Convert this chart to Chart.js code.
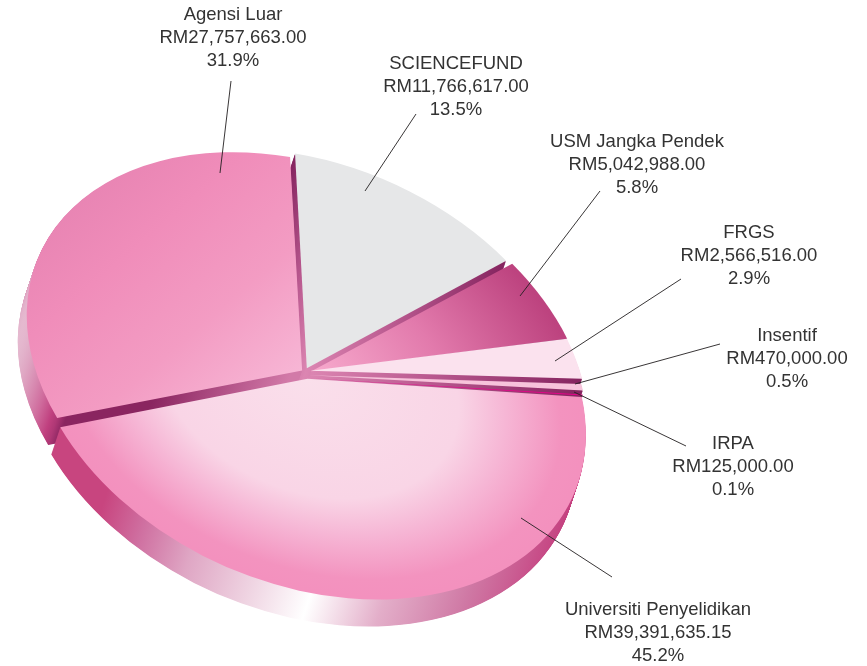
<!DOCTYPE html>
<html>
<head>
<meta charset="utf-8">
<style>html,body{margin:0;padding:0;background:#fff}canvas{display:block}</style>
<script src="https://cdn.jsdelivr.net/npm/chart.js@4/dist/chart.umd.min.js"></script>
</head>
<body>
<canvas id="c" width="867" height="666"></canvas>
<script>
// ---- data (clockwise from the top of the pie)
const categories = ["SCIENCEFUND","USM Jangka Pendek","FRGS","Insentif","IRPA","Universiti Penyelidikan","Agensi Luar"];
const amounts = [11766617.00,5042988.00,2566516.00,470000.00,125000.00,39391635.15,27757663.00];
const percents = ["13.5%","5.8%","2.9%","0.5%","0.1%","45.2%","31.9%"];

// ---- style and layout
const faceColors = ["#e6e7e8","#d9689f","#fbe2ee","#f7c3db","#ec008c","#f7c5dc","#f39abf"];
const explode = [22,17,13,10,9,14,13];
const nudge = [[-2,0],[0,0],[0,-2],[0,2],[0,5],[0,2],[0,0]];
const labelCenters = [[456,64],[637,142],[749,233],[787,336],[733,444],[658,610],[233,15]];
const leaders = [[416,114,365,191],[600,191,520,296],[681,279,555,361],[720,344,575,384],[686,446,574,392],[612,577,521,518],[231,81,220,173]];
const paintOrder = [0,1,2,3,4,6,5];
const CENTER = [306,373], AXIS_U = [275,55], AXIS_V = [0,211], DEPTH = [-9,27], R = 200;

function money(v){return "RM"+v.toLocaleString("en-US",{minimumFractionDigits:2,maximumFractionDigits:2});}
function stops(g,list){list.forEach(s=>g.addColorStop(s[0],s[1]));return g;}

const pie3d = {
  id:"pie3d",
  beforeDatasetDraw(chart,args){
    const ctx = chart.ctx, els = args.meta.data, x0 = els[0].x, y0 = els[0].y;
    const a = AXIS_U[0]/R, b = AXIS_U[1]/R, c = AXIS_V[0]/R, d = AXIS_V[1]/R;
    const e = CENTER[0]-a*x0-c*y0, f = CENTER[1]-b*x0-d*y0;
    const sx = s => x0+(s-CENTER[0])/a;               // screen x -> chart x
    const radial = (r0,list) => stops(ctx.createRadialGradient(x0,y0,r0,x0,y0,R),list);
    const byX = (s0,s1,list) => stops(ctx.createLinearGradient(sx(s0),0,sx(s1),0),list);
    const spoke = [[0,"#dc86b2"],[0.45,"#b9598f"],[1,"#862560"]];
    const walls = {
      0:radial(0,spoke),1:radial(0,spoke),2:radial(0,spoke),3:radial(0,spoke),4:radial(0,spoke),
      5:byX(55,575,[[0,"#c8457f"],[0.1,"#c8457f"],[0.17,"#cf6fa0"],[0.26,"#dfa6c4"],[0.38,"#efd4e2"],[0.49,"#ffffff"],[0.63,"#e3aec9"],[0.8,"#cf78a4"],[0.93,"#c8508a"],[1,"#c4407f"]]),
      6:byX(18,295,[[0,"#fbeef4"],[0.05,"#e3b4cc"],[0.11,"#cf6a9c"],[0.14,"#c0407f"],[0.19,"#8a2560"],[0.5,"#8a2560"],[0.75,"#b04f85"],[1,"#d27aa8"]])
    };
    const faces = {
      0:"#e6e7e8",
      1:radial(0,[[0,"#f7aacd"],[0.5,"#e27aac"],[1,"#bd437f"]]),
      2:"#fbe2ee",3:"#f7c3db",4:"#ec008c",
      5:radial(0,[[0,"#fadfeb"],[0.55,"#f9d5e6"],[0.72,"#f6b6d5"],[0.92,"#f393bf"],[1,"#f391be"]]),
      6:stops(ctx.createLinearGradient(x0-R*0.98,y0-R*0.75,x0+R*0.02,y0-R*0.02),[[0,"#e27eae"],[0.4,"#f08dba"],[0.7,"#f39cc3"],[1,"#f7b6d5"]])
    };
    const paint = (el,fill) => {
      const keep = el.options;
      el.options = Object.assign({},keep,{backgroundColor:fill,borderWidth:0});
      el.draw(ctx);
      el.options = keep;
    };
    paintOrder.forEach(i=>{
      const el = els[i], n = nudge[i];
      for(let s=DEPTH[1];s>=1;s-=0.5){
        ctx.save();
        ctx.translate(n[0]+DEPTH[0]*s/DEPTH[1],n[1]+s);
        ctx.transform(a,b,c,d,e,f);
        paint(el,walls[i]);
        ctx.restore();
      }
      ctx.save();
      ctx.translate(n[0],n[1]);
      ctx.transform(a,b,c,d,e,f);
      paint(el,faces[i]);
      ctx.restore();
    });
    return false;
  },
  afterDraw(chart){
    const ctx = chart.ctx;
    ctx.save();
    ctx.strokeStyle = "#231f20"; ctx.lineWidth = 0.9;
    leaders.forEach(l=>{ctx.beginPath();ctx.moveTo(l[0],l[1]);ctx.lineTo(l[2],l[3]);ctx.stroke();});
    ctx.fillStyle = "#333333"; ctx.font = "18.5px 'Liberation Sans'";
    ctx.textAlign = "center"; ctx.textBaseline = "middle";
    categories.forEach((name,i)=>{
      const p = labelCenters[i];
      [name,money(amounts[i]),percents[i]].forEach((t,k)=>ctx.fillText(t,p[0],p[1]+k*23));
    });
    ctx.restore();
  }
};

new Chart(document.getElementById("c"),{
  type:"pie",
  data:{labels:categories,datasets:[{data:amounts,backgroundColor:faceColors,borderWidth:0,offset:explode,radius:R,clip:false}]},
  options:{
    responsive:false,animation:false,events:[],rotation:-2.5,
    layout:{padding:0},
    plugins:{legend:{display:false},tooltip:{enabled:false}}
  },
  plugins:[pie3d]
});
</script>
</body>
</html>
